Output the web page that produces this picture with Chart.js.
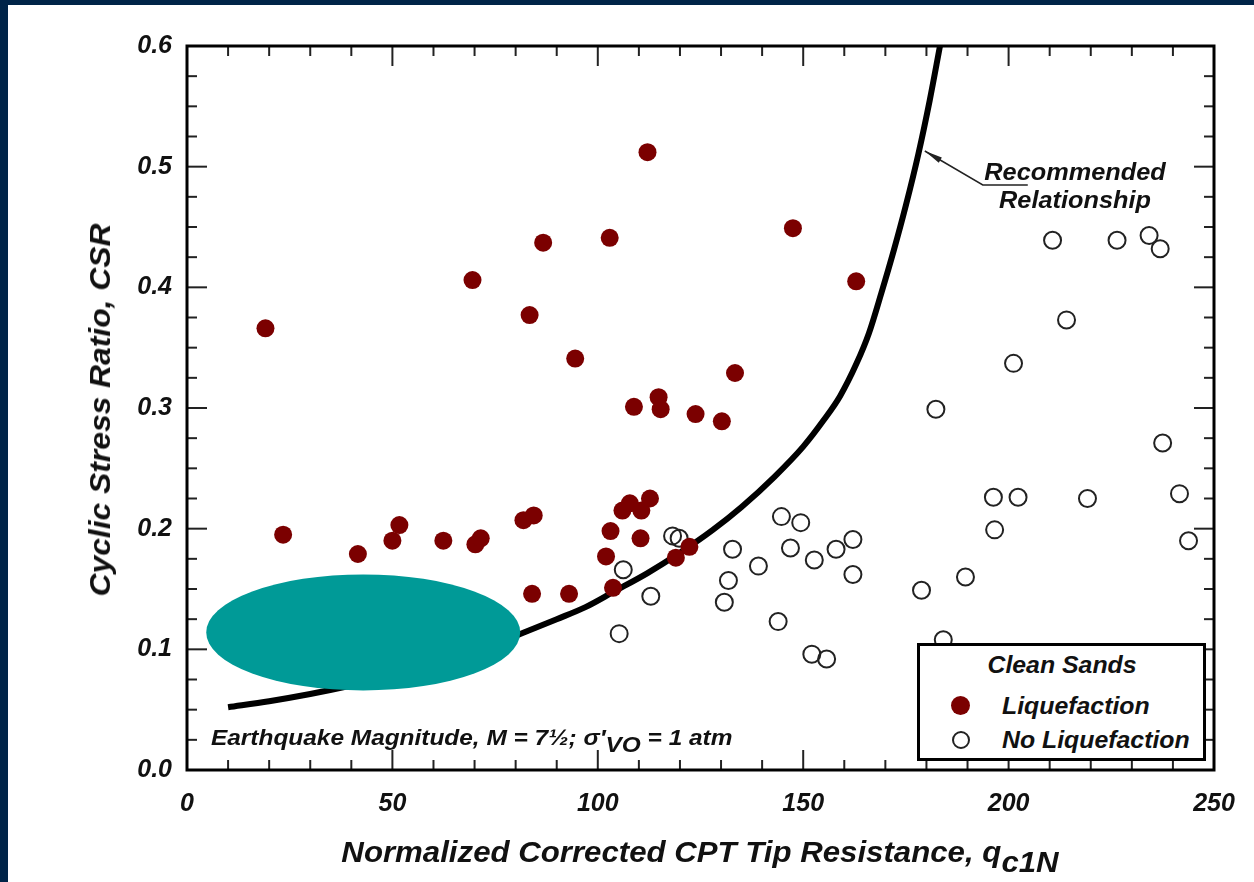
<!DOCTYPE html>
<html>
<head>
<meta charset="utf-8">
<script src="https://cdn.jsdelivr.net/npm/chart.js@4.4.0/dist/chart.umd.min.js"></script>
<style>
  html, body { margin: 0; padding: 0; }
  body {
    width: 1254px; height: 882px; position: relative; overflow: hidden;
    background: #002448;
    font-family: "Liberation Sans", Arial, sans-serif;
  }
  #panel { position: absolute; left: 8px; top: 5px; right: 0; bottom: 0; background: #fff; }
  #chart { position: absolute; left: 0; top: 0; }
  .txt { position: absolute; color: #111; font-style: italic; font-weight: bold; white-space: nowrap; }
  #ytitle { left: 100px; top: 410px; font-size: 30px; transform: translate(-50%, -50%) rotate(-90deg) scaleX(1.06); }
  #xtitle { left: 700px; top: 852px; font-size: 30px; transform: translate(-50%, -50%) scaleX(1.04); }
  #xtitle sub { font-size: 30px; vertical-align: -10px; line-height: 0; }
  #note { left: 211px; top: 738px; font-size: 22px; transform-origin: left center; transform: translateY(-50%) scaleX(1.11); }
  #note sub { font-size: 22px; vertical-align: -7px; line-height: 0; }
  #reco { left: 1075px; top: 186px; font-size: 23px; text-align: center; line-height: 28px;
          transform: translate(-50%, -50%) scaleX(1.1); }
  #legend {
    position: absolute; left: 917px; top: 643px; width: 289px; height: 118px;
    box-sizing: border-box; border: 3px solid #000; background: #fff;
  }
  #legend .txt { font-size: 23px; }
  .lg-title { left: 142px; top: 19px; transform: translate(-50%, -50%) scaleX(1.08); }
  .lg-item { left: 82px; transform-origin: left center; transform: translateY(-50%) scaleX(1.08); }
  .mark { position: absolute; border-radius: 50%; box-sizing: border-box; }
  .mark.fill { width: 19px; height: 19px; background: #7b0000; }
  .mark.open { width: 18px; height: 18px; border: 2px solid #222; background: #fff; }
</style>
</head>
<body>
<div id="panel"></div>
<canvas id="chart" width="1254" height="882"></canvas>

<div class="txt" id="ytitle">Cyclic Stress Ratio, CSR</div>
<div class="txt" id="xtitle">Normalized Corrected CPT Tip Resistance, q<sub>c1N</sub></div>
<div class="txt" id="note">Earthquake Magnitude, M = 7½; σ′<sub>VO</sub> = 1 atm</div>
<div class="txt" id="reco">Recommended<br>Relationship</div>

<div id="legend">
  <div class="txt lg-title">Clean Sands</div>
  <div class="mark fill" style="left:31px;top:50px"></div>
  <div class="txt lg-item" style="top:60px">Liquefaction</div>
  <div class="mark open" style="left:32px;top:85px"></div>
  <div class="txt lg-item" style="top:94px">No Liquefaction</div>
</div>

<script>
  // valeurs
  const liqQ = [19.1, 23.4, 41.6, 50.0, 51.7, 62.4, 70.2, 71.5, 69.5, 81.9, 84.4, 83.4,
                84.0, 86.7, 93.0, 94.5, 102.0, 103.1, 103.7, 102.9, 106.0, 107.8, 110.6, 112.7,
                110.4, 108.8, 114.8, 115.3, 112.1, 119.0, 122.3, 123.8, 130.2, 133.4, 147.5, 162.9];
  const liqCSR = [0.366, 0.195, 0.179, 0.190, 0.203, 0.190, 0.187, 0.192, 0.406, 0.207, 0.211, 0.377,
                  0.146, 0.437, 0.146, 0.341, 0.177, 0.198, 0.151, 0.441, 0.215, 0.221, 0.215, 0.225,
                  0.192, 0.301, 0.309, 0.299, 0.512, 0.176, 0.185, 0.295, 0.289, 0.329, 0.449, 0.405];

  const noLiqQ = [144.7, 149.4, 132.8, 146.9, 158.0, 162.1, 152.7, 139.1, 131.8, 130.8, 162.1, 143.9,
                  152.1, 155.7, 112.9, 105.2, 106.2, 118.2, 119.8, 178.8, 189.5, 184.1,
                  210.7, 226.4, 234.2, 236.9, 214.1, 201.2, 182.3, 237.5, 196.3, 202.3, 219.2, 241.6,
                  196.6, 243.8];
  const noLiqCSR = [0.210, 0.205, 0.183, 0.184, 0.183, 0.191, 0.174, 0.169, 0.157, 0.139, 0.162, 0.123,
                    0.096, 0.092, 0.144, 0.113, 0.166, 0.194, 0.192, 0.149, 0.160, 0.108,
                    0.439, 0.439, 0.443, 0.432, 0.373, 0.337, 0.299, 0.271, 0.226, 0.226, 0.225, 0.229,
                    0.199, 0.190];

  // courbe recommandee
  const curveQ = [10, 20, 30, 40, 50, 60, 70, 82, 90, 97, 104, 112, 120, 128, 135, 143,
                  150, 155, 159, 163, 166, 169, 172, 175, 178, 180.8, 183.3];
  const curveCSR = [0.052, 0.057, 0.063, 0.070, 0.078, 0.087, 0.098, 0.114, 0.125, 0.135, 0.148, 0.163,
                    0.180, 0.199, 0.218, 0.243, 0.268, 0.290, 0.310, 0.337, 0.362, 0.395, 0.430, 0.468,
                    0.510, 0.555, 0.600];

  const xTicks = [0, 50, 100, 150, 200, 250];
  const yTicks = [0.0, 0.1, 0.2, 0.3, 0.4, 0.5, 0.6];

  const toPts = (xs, ys) => xs.map((v, i) => ({ x: v, y: ys[i] }));

  const tickFont = { family: '"Liberation Sans", Arial, sans-serif', size: 25, style: 'italic', weight: 'bold' };

  /**
   * cadre + graduations vers l'interieur
   */
  const frameTicks = {
    id: 'frameTicks',
    beforeDatasetsDraw(chart) {
      const { ctx, chartArea: a, scales: { x, y } } = chart;
      const seg = (x1, y1, x2, y2) => { ctx.beginPath(); ctx.moveTo(x1, y1); ctx.lineTo(x2, y2); ctx.stroke(); };
      ctx.save();
      ctx.strokeStyle = '#222';
      ctx.lineWidth = 2;
      for (let v = 10; v < 250; v += 10) {
        const px = x.getPixelForValue(v);
        const len = v % 50 === 0 ? 20 : 10;
        seg(px, a.bottom, px, a.bottom - len);
        seg(px, a.top, px, a.top + len);
      }
      for (let i = 1; i < 24; i++) {
        const py = y.getPixelForValue(i * 0.025);
        const len = i % 4 === 0 ? 20 : 10;
        seg(a.left, py, a.left + len, py);
        seg(a.right, py, a.right - len, py);
      }
      ctx.lineWidth = 3;
      ctx.strokeStyle = '#000';
      ctx.strokeRect(a.left, a.top, a.right - a.left, a.bottom - a.top);
      ctx.restore();
    },
    afterDatasetsDraw(chart) {
      const { ctx, scales: { x, y } } = chart;
      ctx.save();
      // fleche "Recommended Relationship"
      const tx = x.getPixelForValue(179.6), ty = y.getPixelForValue(0.513);
      const mx = tx + 58, my = ty + 34;
      ctx.strokeStyle = '#222';
      ctx.lineWidth = 1.5;
      ctx.beginPath();
      ctx.moveTo(tx, ty); ctx.lineTo(mx, my); ctx.lineTo(mx + 45, my);
      ctx.stroke();
      const ang = Math.atan2(my - ty, mx - tx);
      ctx.fillStyle = '#222';
      ctx.beginPath();
      ctx.moveTo(tx, ty);
      ctx.lineTo(tx + 18 * Math.cos(ang) - 3 * Math.sin(ang), ty + 18 * Math.sin(ang) + 3 * Math.cos(ang));
      ctx.lineTo(tx + 18 * Math.cos(ang) + 3 * Math.sin(ang), ty + 18 * Math.sin(ang) - 3 * Math.cos(ang));
      ctx.closePath();
      ctx.fill();
      // ellipse turquoise
      ctx.fillStyle = '#009a97';
      ctx.beginPath();
      ctx.ellipse(x.getPixelForValue(42.9), y.getPixelForValue(0.114), 157, 58, 0, 0, Math.PI * 2);
      ctx.fill();
      ctx.restore();
    }
  };

  new Chart(document.getElementById('chart'), {
    type: 'scatter',
    data: {
      datasets: [
        {
          label: 'Liquefaction',
          data: toPts(liqQ, liqCSR),
          pointRadius: 9,
          backgroundColor: '#7b0000',
          borderColor: '#7b0000',
          borderWidth: 0,
          order: 1
        },
        {
          label: 'No Liquefaction',
          data: toPts(noLiqQ, noLiqCSR),
          pointRadius: 8.5,
          backgroundColor: 'rgba(255,255,255,0)',
          borderColor: '#222',
          borderWidth: 2,
          order: 2
        },
        {
          type: 'line',
          label: 'Recommended Relationship',
          data: toPts(curveQ, curveCSR),
          borderColor: '#000',
          borderWidth: 6,
          pointRadius: 0,
          fill: false,
          cubicInterpolationMode: 'monotone',
          order: 3
        }
      ]
    },
    options: {
      responsive: false,
      animation: false,
      devicePixelRatio: 1,
      layout: { padding: { top: 46, right: 40, left: 0, bottom: 0 } },
      plugins: { legend: { display: false }, tooltip: { enabled: false } },
      scales: {
        x: {
          type: 'linear', min: 0, max: 250,
          afterFit: s => { s.height = 112; },
          afterBuildTicks: s => { s.ticks = xTicks.map(v => ({ value: v })); },
          grid: { display: false, drawTicks: false },
          border: { display: false },
          ticks: { font: tickFont, color: '#111', padding: 19, maxRotation: 0, callback: v => String(v) }
        },
        y: {
          type: 'linear', min: 0, max: 0.6,
          afterFit: s => { s.width = 187; },
          afterBuildTicks: s => { s.ticks = yTicks.map(v => ({ value: v })); },
          grid: { display: false, drawTicks: false },
          border: { display: false },
          ticks: { font: tickFont, color: '#111', padding: 15, callback: v => Number(v).toFixed(1) }
        }
      }
    },
    plugins: [frameTicks]
  });
</script>
</body>
</html>
